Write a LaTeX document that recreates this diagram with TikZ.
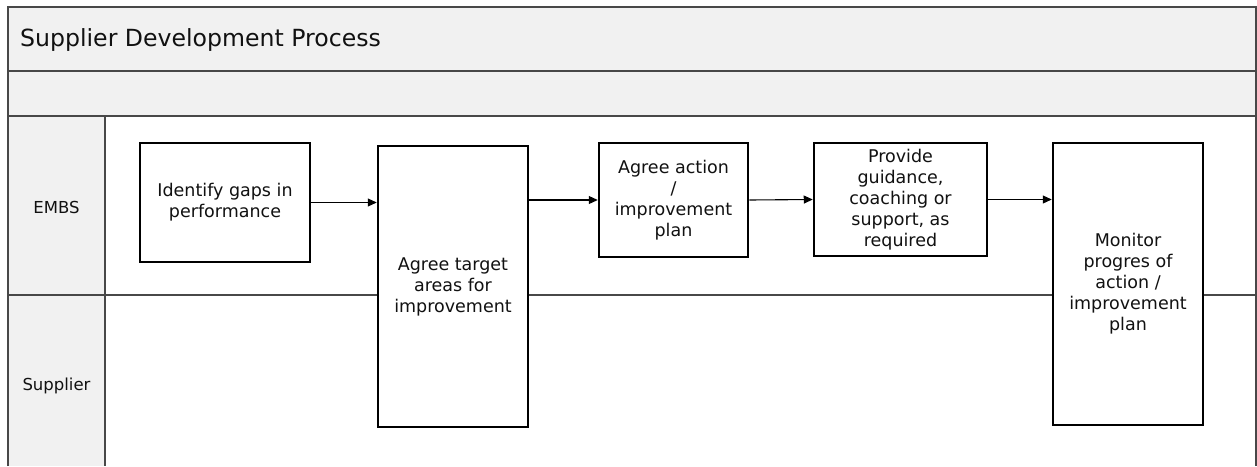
\documentclass[tikz,border=0pt]{standalone}
\usepackage{fontspec}
\setmainfont{DejaVu Sans}
\usetikzlibrary{arrows.meta}
\definecolor{bandgray}{HTML}{F1F1F1}
\definecolor{tablegray}{HTML}{484848}
\definecolor{textcol}{HTML}{111111}
\begin{document}
\begin{tikzpicture}[x=1pt,y=-1pt,
  tableline/.style={draw=tablegray, line width=1.6pt},
  proc/.style={draw=black, line width=2.5pt, fill=white, align=center, inner sep=2pt,
    font=\fontsize{17.5}{21}\selectfont, text=textcol},
  lanelabel/.style={font=\fontsize{16.5}{20}\selectfont, text=textcol},
  flow/.style={-{Triangle[length=9pt,width=8pt]}, line width=1.1pt}]
\useasboundingbox (0,0) rectangle (1257,466);
% backgrounds
\fill[bandgray] (8,7) rectangle (1256,116);
\fill[bandgray] (8,116) rectangle (105,466);
% table lines
\draw[tableline] (8,466) -- (8,7) -- (1256,7) -- (1256,466);
\draw[tableline] (8,71) -- (1256,71);
\draw[tableline] (8,116) -- (1256,116);
\draw[tableline] (8,295) -- (1256,295);
\draw[tableline] (105,116) -- (105,466);
% title and lane labels
\node[anchor=base west, font=\fontsize{23.6}{28}\selectfont, text=textcol, inner sep=0] (title) at (20,46) {Supplier Development Process};
\node[lanelabel] (embs) at (56.5,207) {EMBS};
\node[lanelabel] (supl) at (56.5,386) {Supplier};
% process boxes
\node[proc, minimum width=170pt, minimum height=119pt] (ident) at (225,202.5) {Identify gaps in\\performance};
\node[proc, minimum width=150pt, minimum height=281pt] (target) at (453,286.5) {Agree target\\areas for\\improvement};
\node[proc, minimum width=149pt, minimum height=114pt] (action) at (673.5,200) {Agree action\\/\\improvement\\plan};
\node[proc, minimum width=173pt, minimum height=113pt] (provide) at (900.5,199.5) {Provide\\guidance,\\coaching or\\support, as\\required};
\node[proc, minimum width=150pt, minimum height=282pt] (monitor) at (1128,284) {Monitor\\progres of\\action /\\improvement\\plan};
% connectors
\draw[flow] (ident.east) -- (ident.east -| target.west);
\draw[flow] (target.east |- action.west) -- (action.west);
\draw[flow] (action.east) -- (provide.west);
\draw[flow] (provide.east) -- (provide.east -| monitor.west);
\end{tikzpicture}
\end{document}
